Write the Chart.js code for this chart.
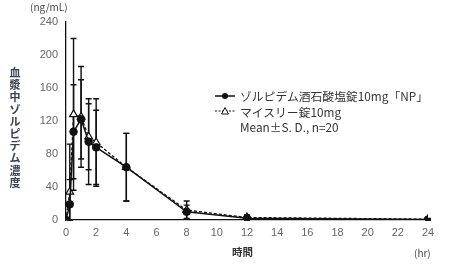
<!DOCTYPE html>
<html>
<head>
<meta charset="utf-8">
<script src="https://cdn.jsdelivr.net/npm/chart.js@4"></script>
<style>
  body { margin: 0; background: #fff; }
  #wrap { position: relative; width: 450px; height: 266px; font-family: "Noto Sans CJK JP", sans-serif; color: #444; }
  #chart { position: absolute; left: 0; top: 0; }
  .lbl { position: absolute; font-size: 10px; white-space: nowrap; line-height: 1; }
  #ytitle { position: absolute; left: 9px; top: 66px; width: 12px; font-size: 11px; text-align: center; font-weight: bold; color: #3a4256; }
  #ytitle span { display: block; height: 12.2px; line-height: 12.2px; }
  #legend { position: absolute; left: 214px; top: 88px; font-size: 11.8px; color: #333; line-height: 15.5px; }
  #legend div { display: flex; align-items: center; height: 15.5px; }
  #legend svg { margin-right: 4px; }
</style>
</head>
<body>
<div id="wrap">
  <canvas id="chart" width="450" height="266"></canvas>
  <div class="lbl" style="left:30px;top:2px;">(ng/mL)</div>
  <div id="ytitle"><span>血</span><span>漿</span><span>中</span><span>ゾ</span><span>ル</span><span>ピ</span><span>デ</span><span>ム</span><span>濃</span><span>度</span></div>
  <div class="lbl" style="left:232px;top:247px;font-size:10.5px;font-weight:bold;color:#333;">時間</div>
  <div class="lbl" style="left:414px;top:248px;">(hr)</div>
  <div id="legend">
    <div><svg width="22" height="10"><line x1="1" y1="5" x2="21" y2="5" stroke="#111" stroke-width="1.5"/><circle cx="11" cy="5" r="3" fill="#111"/></svg>ゾルピデム酒石酸塩錠10mg「NP」</div>
    <div><svg width="22" height="10"><line x1="1" y1="5" x2="21" y2="5" stroke="#111" stroke-width="1.2" stroke-dasharray="2,1.5"/><polygon points="11,1.5 14.5,8 7.5,8" fill="#fff" stroke="#111" stroke-width="1"/></svg>マイスリー錠10mg</div>
    <div style="padding-left:26px;">Mean±S. D., n=20</div>
  </div>
</div>
<script>
// sampling times (hr)
const times = [0, 0.25, 0.5, 1, 1.5, 2, 4, 8, 12, 24];

// ゾルピデム酒石酸塩錠10mg「NP」
const npMean = [0, 19, 107, 122, 95, 88, 64, 10, 2, 0.5];
const npSD   = [0, 30, 57, 48, 52, 45, 41, 8, 2, 0.5];

// マイスリー錠10mg
const myMean = [0, 34, 128, 125, 101, 94, 64, 12, 3, 1];
const mySD   = [0, 58, 92, 61, 40, 53, 41, 11, 3, 1];

const yTicks = [0, 40, 80, 120, 160, 200, 240];
const xTicks = [0, 2, 4, 6, 8, 10, 12, 14, 16, 18, 20, 22, 24];

function pts(mean) {
    return times.map((t, i) => ({ x: t, y: mean[i] }));
}

// vertical mean ± SD bars, drawn through the chart scales
const errorBars = {
    id: 'errorBars',
    beforeDatasetsDraw(chart) {
        const ctx = chart.ctx;
        const xs = chart.scales.x, ys = chart.scales.y;
        const sets = [[npMean, npSD], [myMean, mySD]];
        ctx.save();
        ctx.strokeStyle = '#111';
        ctx.lineWidth = 1.4;
        sets.forEach(([m, sd]) => {
            times.forEach((t, i) => {
                if (!sd[i]) return;
                const x = xs.getPixelForValue(t);
                const top = ys.getPixelForValue(m[i] + sd[i]);
                const bot = ys.getPixelForValue(Math.max(0, m[i] - sd[i]));
                ctx.beginPath();
                ctx.moveTo(x, top); ctx.lineTo(x, bot);
                ctx.moveTo(x - 3, top); ctx.lineTo(x + 3, top);
                ctx.moveTo(x - 3, bot); ctx.lineTo(x + 3, bot);
                ctx.stroke();
            });
        });
        ctx.restore();
    }
};

const tickFont = { family: 'Liberation Sans, Arial, sans-serif', size: 11 };

new Chart(document.getElementById('chart'), {
    type: 'line',
    data: {
        datasets: [{
            label: 'ゾルピデム酒石酸塩錠10mg「NP」',
            data: pts(npMean),
            borderColor: '#111',
            borderWidth: 1.5,
            backgroundColor: '#111',
            pointStyle: 'circle',
            pointRadius: 3.8,
            pointBorderWidth: 1,
            pointBorderColor: '#111',
            pointBackgroundColor: '#111',
            tension: 0
        }, {
            label: 'マイスリー錠10mg',
            data: pts(myMean),
            borderColor: '#111',
            borderWidth: 1.3,
            borderDash: [3, 2],
            pointStyle: 'triangle',
            pointRadius: 4.5,
            pointBorderWidth: 1.2,
            pointBorderColor: '#111',
            pointBackgroundColor: '#fff',
            tension: 0
        }]
    },
    options: {
        responsive: false,
        animation: false,
        layout: { padding: { left: 0, right: 22, top: 22, bottom: 0 } },
        plugins: { legend: { display: false }, tooltip: { enabled: false } },
        scales: {
            x: {
                type: 'linear',
                min: 0, max: 24,
                afterBuildTicks: s => { s.ticks = xTicks.map(v => ({ value: v })); },
                afterFit: s => { s.height = 46; },
                grid: { display: false, drawTicks: true, tickLength: 4, color: '#111' },
                border: { color: '#111', width: 1.3 },
                ticks: { color: '#666', font: tickFont, padding: 2, maxRotation: 0 }
            },
            y: {
                min: 0, max: 240,
                afterBuildTicks: s => { s.ticks = yTicks.map(v => ({ value: v })); },
                afterFit: s => { s.width = 66; },
                grid: { display: false, drawTicks: true, tickLength: 4, color: '#111' },
                border: { color: '#111', width: 1.3 },
                ticks: { color: '#666', font: tickFont, padding: 4 }
            }
        }
    },
    plugins: [errorBars]
});
</script>
</body>
</html>
